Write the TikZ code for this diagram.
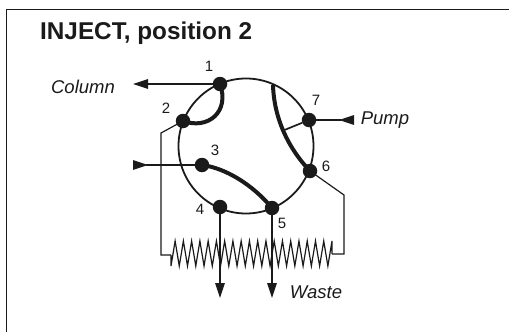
\documentclass[tikz,border=0pt]{standalone}
\usepackage{fontspec}
\setmainfont{Liberation Sans}
\usepackage{tikz}
\usetikzlibrary{arrows.meta, positioning, calc}
\definecolor{inkgrey}{HTML}{1A1A1A}
\tikzset{
	port/.style={circle, fill=inkgrey, draw=none, inner sep=0pt, minimum size=14.5pt},
	valvebody/.style={circle, draw=inkgrey, line width=1.8pt, inner sep=0pt, minimum size=135pt},
	portlabel/.style={font=\fontsize{15}{17}\selectfont, text=inkgrey, inner sep=0pt},
	flowlabel/.style={font=\fontsize{18.5}{20}\selectfont\itshape, text=inkgrey, inner sep=0pt},
	thinline/.style={line width=1.2pt, draw=inkgrey},
	slot/.style={line width=4pt, draw=inkgrey},
	arrow/.style={thinline, -{Triangle[length=15pt, width=9.5pt]}},
	inarrow/.style={thinline, {Triangle[reversed, length=15pt, width=9.5pt]}-}
}
\begin{document}
\begin{tikzpicture}[x=1pt, y=-1pt]
	\useasboundingbox (0,0) rectangle (509,332);
	\draw [draw=inkgrey, line width=1.7pt] (6.5,332) -- (6.5,9.5) -- (509,9.5);
	\node (title) [font=\fontsize{24.3}{26}\selectfont\bfseries, text=inkgrey, anchor=base west, inner sep=0pt] at (40,39.5) {INJECT, position 2};

	% Valve body and ports
	\node (valve) [valvebody] at (246,146) {};
	\node (p1) [port] at (220,84) {};
	\node (p2) [port] at (183,121) {};
	\node (p3) [port] at (202,165) {};
	\node (p4) [port] at (220,207) {};
	\node (p5) [port] at (272,208) {};
	\node (p6) [port] at (310,171) {};
	\node (p7) [port] at (309,120) {};
	\node (l1) [portlabel] at (209,66) {1};
	\node (l2) [portlabel] at (166,108) {2};
	\node (l3) [portlabel] at (215,150) {3};
	\node (l4) [portlabel] at (200,209) {4};
	\node (l5) [portlabel] at (282,223) {5};
	\node (l6) [portlabel] at (326,166) {6};
	\node (l7) [portlabel] at (316,100) {7};

	% Slots of the rotor
	\draw [slot] (p1.center) .. controls (230,112) and (208,130) .. (p2.center);
	\draw [slot] (p3.center) .. controls (225,168) and (252,184) .. (p5.center);
	\coordinate (s7) at (273,85);
	\coordinate (t7) at (282,131);
	\draw [slot] (s7) .. controls (274,118) and (288,148) .. (p6.center);
	\draw [thinline, line width=1.7pt] (p7) -- (t7);

	% Flow paths
	\coordinate (column) at (133,84);
	\coordinate (pump) at (354,120);
	\coordinate (feed) at (133,165);
	\coordinate (out4) at (220,298);
	\coordinate (out5) at (272,298);
	\draw [arrow] (p1.center) -- (column);
	\draw [inarrow] (pump) -- (p7.center);
	\draw [inarrow] (feed) -- (p3.center);
	\draw [arrow] (p4.center) -- (out4);
	\draw [arrow] (p5.center) -- (out5);

	% Sample loop
	\coordinate (a2) at (161,133);
	\coordinate (b2) at (161,255);
	\coordinate (c2) at (171,255);
	\coordinate (a6) at (344,195);
	\coordinate (b6) at (344,254);
	\coordinate (c6) at (332,254);
	\draw [thinline] (p2.center) -- (a2) -- (b2) -- (c2);
	\draw [thinline] (p6.center) -- (a6) -- (b6) -- (c6);
	\draw [thinline, line join=miter] (c2) -- ++(0,11)
		\foreach \i in {0,...,18} { -- ++(4.128,-25) -- ++(4.128,25) }
		-- ++(4.128,-25) -- (c6);

	\node (column text) [flowlabel] at (83,87) {Column};
	\node (pump text) [flowlabel] at (385,120) {Pump};
	\node (waste text) [flowlabel] at (316,292) {Waste};
\end{tikzpicture}
\end{document}
